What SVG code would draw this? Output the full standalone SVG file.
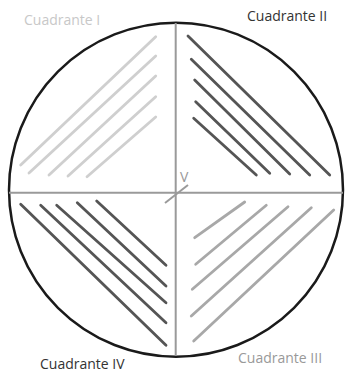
<svg xmlns="http://www.w3.org/2000/svg" width="346" height="372" viewBox="0 0 346 372">
<style>
.lbl{font-family:"Open Sans","Noto Sans","Liberation Sans",sans-serif;font-size:14px}
.axis{stroke:#9a9a9a;stroke-width:2;fill:none}
.h1{stroke:#cfcfcf;stroke-width:2.8;stroke-linecap:round}
.h2{stroke:#555;stroke-width:2.8;stroke-linecap:round}
.h3{stroke:#a8a8a8;stroke-width:2.8;stroke-linecap:round}
</style>
<rect width="346" height="372" fill="#fff"/>
<g id="circle">
<ellipse cx="176" cy="189.7" rx="167" ry="167" fill="none" stroke="#1a1a1a" stroke-width="2.5"/>
</g>
<g id="axes">
<line class="axis" x1="175.7" y1="23" x2="175.7" y2="356"/>
<line class="axis" x1="9" y1="192.7" x2="343" y2="192.7"/>
<line class="axis" x1="165" y1="203" x2="188" y2="185" stroke-width="2.5"/>
<text class="lbl" x="180" y="182" fill="#999" font-size="12">V</text>
</g>
<g id="q1">
<line class="h1" x1="20.7" y1="165" x2="155.7" y2="36.7"/>
<line class="h1" x1="29" y1="173" x2="155.7" y2="56"/>
<line class="h1" x1="49" y1="175" x2="155.7" y2="76"/>
<line class="h1" x1="68" y1="176" x2="155.7" y2="96.7"/>
<line class="h1" x1="87" y1="176.7" x2="155.7" y2="117"/>
<text class="lbl" x="24" y="25" fill="#c8c8c8">Cuadrante I</text>
</g>
<g id="q2">
<line class="h2" x1="188" y1="36" x2="329.7" y2="175"/>
<line class="h2" x1="191.3" y1="59.3" x2="309.7" y2="175"/>
<line class="h2" x1="194.7" y1="80" x2="289.7" y2="174"/>
<line class="h2" x1="195.7" y1="101.7" x2="269.7" y2="173.3"/>
<line class="h2" x1="193.7" y1="118.3" x2="256.3" y2="175"/>
<text class="lbl" x="247" y="21" fill="#333">Cuadrante II</text>
</g>
<g id="q3">
<line class="h3" x1="194.7" y1="237.7" x2="244.7" y2="202"/>
<line class="h3" x1="195.7" y1="264.3" x2="266.3" y2="205.3"/>
<line class="h3" x1="192.3" y1="289.3" x2="288" y2="206.7"/>
<line class="h3" x1="191.3" y1="316" x2="311.3" y2="207.7"/>
<line class="h3" x1="193.7" y1="341" x2="333.7" y2="210"/>
<text class="lbl" x="238" y="362.7" fill="#999">Cuadrante III</text>
</g>
<g id="q4">
<line class="h2" x1="20.7" y1="204.3" x2="166" y2="345.3"/>
<line class="h2" x1="40.7" y1="205.3" x2="166" y2="322.7"/>
<line class="h2" x1="56.7" y1="205.3" x2="166" y2="302.7"/>
<line class="h2" x1="77.3" y1="202.7" x2="166" y2="286"/>
<line class="h2" x1="96.7" y1="201" x2="166" y2="265.3"/>
<text class="lbl" x="40" y="369" fill="#333">Cuadrante IV</text>
</g>
</svg>
